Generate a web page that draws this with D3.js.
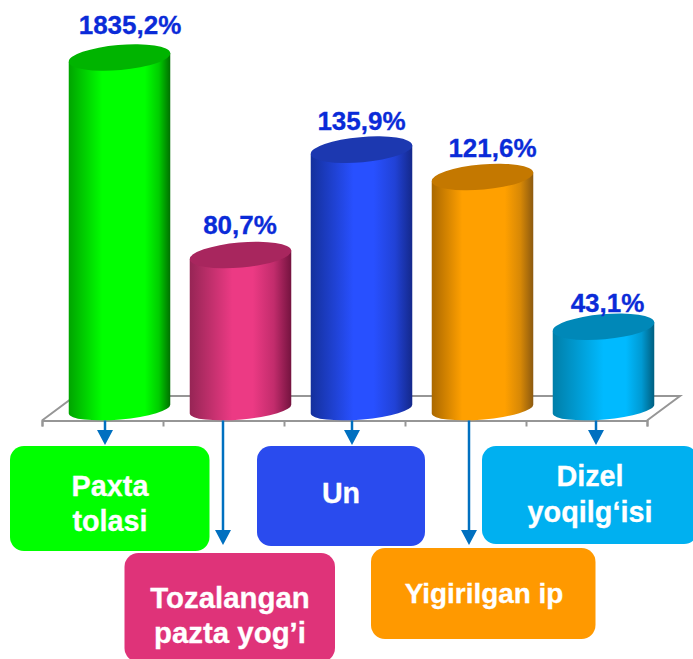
<!doctype html>
<html>
<head>
<meta charset="utf-8">
<title>Paxta</title>
<script src="https://cdn.jsdelivr.net/npm/d3@7"></script>
<style>
  html, body { margin: 0; padding: 0; background: #fff; overflow: hidden; }
  svg { display: block; }
  text { font-family: "Liberation Sans", Arial, sans-serif; font-weight: bold; }
</style>
</head>
<body>
<div id="viz"></div>
<script>
// values
const categories = ["Paxta tolasi", "Tozalangan pazta yog’i", "Un", "Yigirilgan ip", "Dizel yoqilg‘isi"];
const values = [1835.2, 80.7, 135.9, 121.6, 43.1];
const boxLines = [["Paxta", "tolasi"], ["Tozalangan", "pazta yog’i"], ["Un"], ["Yigirilgan ip"], ["Dizel", "yoqilg‘isi"]];

// colours: [box, body edge left, body middle, body edge right, lid]
const colours = [
  ["#00ff00", "#00a400", "#00ff00", "#007000", "#00b400"],
  ["#df3379", "#962555", "#ec3a84", "#74133f", "#a8265e"],
  ["#2a4bee", "#14309c", "#2850ff", "#14288a", "#1c38b0"],
  ["#ff9900", "#aa6800", "#ffa000", "#8c5a10", "#c47800"],
  ["#00b0f0", "#007ea8", "#00baff", "#005f80", "#0088b8"]
];
// where the bright band of each body starts and stops
const highlight = [[0.33, 0.75], [0.42, 0.62], [0.42, 0.62], [0.3, 0.72], [0.5, 0.72]];

// callout layout, one per category
const callouts = [
  { x: 10, y: 446, w: 199.5, h: 105, arrowX: 105, tip: 445, textX: 110, base: [496, 531], size: 28.8 },
  { x: 124.5, y: 553, w: 210.5, h: 109, arrowX: 223, tip: 545, textX: 230, base: [608, 643], size: 29.4 },
  { x: 257, y: 446, w: 168, h: 100, arrowX: 352, tip: 445, textX: 341, base: [503], size: 28.6 },
  { x: 371, y: 548, w: 224.5, h: 91, arrowX: 469, tip: 545, textX: 484, base: [603], size: 27.9 },
  { x: 482, y: 446, w: 216, h: 98, arrowX: 596, tip: 445, textX: 590, base: [486, 522], size: 28.8 }
];
const labelShift = [[10.5, 23.5], [-0.5, 21], [0, 20], [10, 20], [4, 15]];

const width = 693, height = 659;
const floorLeft = 42, floorRight = 647, floorY = 420.5, backY = 396;
const baseY = 409, topMaxY = 57.5;
const depthShift = 17, tilt = 4.5, lidRy = 12.6, baseRy = 10.5;

const svg = d3.select("#viz").append("svg")
  .attr("width", width)
  .attr("height", height);

const x = d3.scaleBand()
  .domain(categories)
  .range([floorLeft, floorRight])
  .paddingInner(0.161)
  .paddingOuter(0.0805);

// the first bar runs off the top of the axis, so the scale clamps
const y = d3.scaleLinear().domain([0, 184.2]).range([baseY, topMaxY]).clamp(true);

const floorScale = d3.scaleLinear().domain([0, categories.length]).range([floorLeft, floorRight]);

// floor
const grey = "#969696";
svg.append("path")
  .attr("d", `M${floorLeft},${floorY}L75,${backY}L680,${backY}L${floorRight},${floorY}`)
  .attr("fill", "none")
  .attr("stroke", grey)
  .attr("stroke-width", 2);

const axis = svg.append("g")
  .attr("transform", `translate(0,${floorY})`)
  .call(d3.axisBottom(floorScale).ticks(categories.length).tickSize(6).tickFormat(""));
axis.selectAll("text").remove();
axis.selectAll("path, line").attr("stroke", grey).attr("stroke-width", 2);

// gradients
const defs = svg.append("defs");
colours.forEach((c, i) => {
  const g = defs.append("linearGradient").attr("id", "body" + i);
  const [a, b] = highlight[i];
  [
    [0, c[1]],
    [a, c[2]],
    [b, c[2]],
    [b + (1 - b) * 0.55, d3.interpolateRgb(c[2], c[3])(0.35)],
    [1, c[3]]
  ].forEach(s => {
    g.append("stop").attr("offset", s[0]).attr("stop-color", s[1]);
  });
});

// cylinders
const bars = svg.selectAll("g.bar").data(categories).join("g").attr("class", "bar");

bars.each(function (d, i) {
  const g = d3.select(this);
  const r = x.bandwidth() / 2;
  const cx = x(d) + r + depthShift;
  const top = y(values[i]);
  const rot = -5;
  const rr = r / Math.cos(5 * Math.PI / 180);
  g.append("path")
    .attr("d", `M${cx - r},${top + tilt}L${cx - r},${baseY + tilt}` +
      `A${rr},${baseRy},${rot},0,0,${cx + r},${baseY - tilt}` +
      `L${cx + r},${top - tilt}Z`)
    .attr("fill", `url(#body${i})`);
  g.append("path")
    .attr("d", `M${cx - r},${top + tilt}A${rr},${lidRy},${rot},1,1,${cx + r},${top - tilt}` +
      `A${rr},${lidRy},${rot},1,1,${cx - r},${top + tilt}Z`)
    .attr("fill", colours[i][4]);
});

// value labels
const fmt = d3.formatLocale({ decimal: ",", thousands: "", grouping: [3], currency: ["", ""] }).format(".1f");
svg.selectAll("text.value").data(values).join("text")
  .attr("class", "value")
  .attr("x", (d, i) => x(categories[i]) + x.bandwidth() / 2 + depthShift + labelShift[i][0])
  .attr("y", (d, i) => y(d) - labelShift[i][1])
  .attr("text-anchor", "middle")
  .attr("font-size", 26)
  .attr("fill", "#0a2bd8")
  .attr("stroke", "#0a2bd8")
  .attr("stroke-width", 0.3)
  .text(d => fmt(d) + "%");

// boxes with their arrows
const arrowColour = "#0070c0";
callouts.forEach((c, i) => {
  svg.append("rect")
    .attr("x", c.x).attr("y", c.y)
    .attr("width", c.w).attr("height", c.h)
    .attr("rx", 14)
    .attr("fill", colours[i][0]);
  svg.append("line")
    .attr("x1", c.arrowX).attr("x2", c.arrowX)
    .attr("y1", floorY).attr("y2", c.tip - 10)
    .attr("stroke", arrowColour)
    .attr("stroke-width", 2.5);
  svg.append("path")
    .attr("d", `M${c.arrowX - 8},${c.tip - 15}L${c.arrowX + 8},${c.tip - 15}L${c.arrowX},${c.tip}Z`)
    .attr("fill", arrowColour);
  boxLines[i].forEach((line, k) => {
    svg.append("text")
      .attr("x", c.textX)
      .attr("y", c.base[k])
      .attr("text-anchor", "middle")
      .attr("font-size", c.size)
      .attr("fill", "#fff")
      .attr("stroke", "#fff")
      .attr("stroke-width", 0.3)
      .text(line);
  });
});
</script>
</body>
</html>
